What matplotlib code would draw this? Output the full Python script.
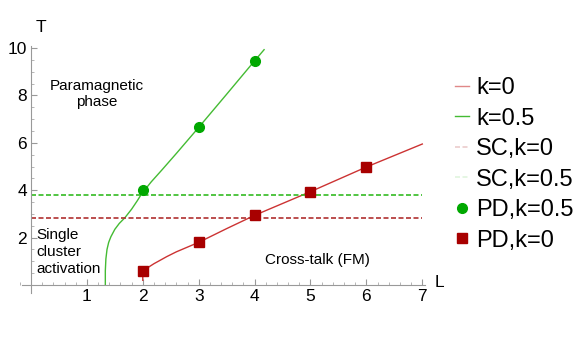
import numpy as np
import matplotlib.pyplot as plt
from matplotlib.ticker import MultipleLocator

plt.rcParams['font.family'] = ['Liberation Sans', 'DejaVu Sans']

# curves (L, T)
L_k05 = [1.33, 1.33, 1.34, 1.36, 1.39, 1.43, 1.50, 1.58, 1.68, 1.80, 1.90, 1.98, 2.15, 2.34, 2.6, 3.0, 3.5, 4.0, 4.17]
T_k05 = [0.0, 0.6, 1.1, 1.5, 1.8, 2.04, 2.35, 2.6, 2.84, 3.2, 3.55, 3.85, 4.35, 4.85, 5.55, 6.65, 8.05, 9.46, 9.93]
L_k0 = [2.0, 2.0, 2.02, 2.06, 2.12, 2.2, 2.3, 2.43, 2.6, 2.8, 3.0, 3.5, 4.0, 4.5, 5.0, 6.0, 7.0]
T_k0 = [0.2, 0.45, 0.58, 0.68, 0.78, 0.9, 1.03, 1.2, 1.4, 1.6, 1.8, 2.38, 2.94, 3.44, 3.94, 4.98, 5.95]

# single cluster thresholds
sc_k0 = 2.84
sc_k05 = 3.8

# points
pd_L05 = [2, 3, 4]
pd_T05 = [4.0, 6.65, 9.46]
pd_L0 = [2, 3, 4, 5, 6]
pd_T0 = [0.58, 1.8, 2.94, 3.94, 4.98]

fig = plt.figure(figsize=(5.82, 3.38), dpi=100)
ax = fig.add_axes([0.0244, 0.1287, 0.7108, 0.7432])

l1, = ax.plot(L_k0, T_k0, color='#cc3333', lw=1.0, label='k=0')
l2, = ax.plot(L_k05, T_k05, color='#44bb33', lw=1.0, label='k=0.5')
l3, = ax.plot([0, 7], [sc_k0, sc_k0], color='#b03030', lw=1.2, ls=(0, (3, 1.5)), label='SC,k=0')
l4, = ax.plot([0, 7], [sc_k05, sc_k05], color='#33bb22', lw=1.2, ls=(0, (3, 1.5)), label='SC,k=0.5')
p1, = ax.plot(pd_L05, pd_T05, 'o', color='#00a800', ms=7, label='PD,k=0.5')
p2, = ax.plot(pd_L0, pd_T0, 's', color='#a80000', ms=6.5, label='PD,k=0')

ax.set_xlim(-0.3, 7.1)
ax.set_ylim(-0.4, 10.2)
for s in ['top', 'right']:
    ax.spines[s].set_visible(False)
ax.spines['left'].set_position(('data', 0))
ax.spines['bottom'].set_position(('data', 0))
ax.spines['left'].set_bounds(-0.35, 10.1)
ax.spines['bottom'].set_bounds(-0.16, 7.05)
for s in ['left', 'bottom']:
    ax.spines[s].set_color('#999999')
    ax.spines[s].set_linewidth(0.8)

ax.set_xticks([1, 2, 3, 4, 5, 6, 7])
ax.set_yticks([2, 4, 6, 8, 10])
ax.xaxis.set_minor_locator(MultipleLocator(0.2))
ax.yaxis.set_minor_locator(MultipleLocator(0.5))
ax.tick_params(which='major', direction='in', length=4, color='#999999', labelsize=12.5, pad=3)
ax.tick_params(which='minor', direction='in', length=2.5, color='#aaaaaa')

ax.text(0.17, 10.55, 'T', fontsize=12.5, ha='center', va='bottom')
ax.text(7.3, 0.1, 'L', fontsize=12.5, ha='center', va='center')

ax.text(1.18, 8.05, 'Paramagnetic\nphase', fontsize=11, ha='center', va='center', linespacing=1.2)
ax.text(0.09, 1.4, 'Single\ncluster\nactivation', fontsize=11, ha='left', va='center', linespacing=1.25)
ax.text(5.12, 1.05, 'Cross-talk (FM)', fontsize=11, ha='center', va='center')

leg = fig.legend(handles=[l1, l2, l3, l4, p1, p2], loc='upper left',
                 bbox_to_anchor=(0.745, 0.835), frameon=False, fontsize=17,
                 handlelength=0.6, handletextpad=0.3, labelspacing=0.36)
hs = leg.legend_handles
hs[0].set_color('#e08888')
hs[1].set_color('#44bb33')
hs[2].set_alpha(0.25)
hs[3].set_alpha(0.15)

fig.savefig('out.png', dpi=100)
